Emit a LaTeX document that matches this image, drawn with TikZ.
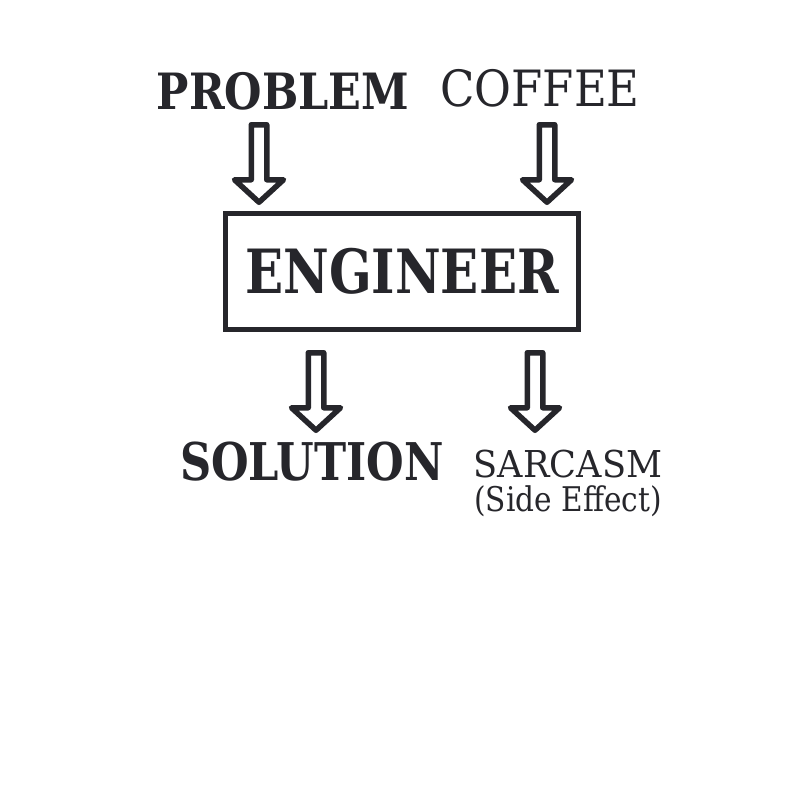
\documentclass[tikz,border=0pt]{standalone}
\usepackage{fontspec}
\setmainfont{DejaVu Serif}
\definecolor{ink}{RGB}{38,38,43}
\tikzset{
  downarrow/.pic={
    \draw[ink,line width=5.5pt,line join=round]
      (-7.75,0) -- (7.75,0) -- (7.75,55) -- (24.5,55) -- (0,77.5)
      -- (-24.5,55) -- (-7.75,55) -- cycle;
  },
  label/.style={anchor=base,text=ink,inner sep=0pt}
}
\begin{document}
\begin{tikzpicture}[x=1pt,y=-1pt]
                            \useasboundingbox[fill=white] (0,0) rectangle (800,800);
                            \node[label,font=\fontsize{50}{50}\selectfont\bfseries] (problem) at (283,109) {\scalebox{0.86}[1]{PROBLEM}};
                            \node[label,font=\fontsize{50}{50}\selectfont] (coffee) at (540,106) {\scalebox{0.9}[1]{COFFEE}};
                            \node[draw=ink,line width=5pt,minimum width=353pt,minimum height=116pt,inner sep=0pt,text=ink,
                              font=\fontsize{61}{61}\selectfont\bfseries] (engineer) at (402,271.5) {\scalebox{0.82}[1]{ENGINEER}};
                            \pic at (259,124.75) {downarrow};
                            \pic at (547,124.75) {downarrow};
                            \pic at (316,352.75) {downarrow};
                            \pic at (535,352.75) {downarrow};
                            \node[label,font=\fontsize{52}{52}\selectfont\bfseries] (solution) at (312,480) {\scalebox{0.83}[1]{SOLUTION}};
                            \node[label,font=\fontsize{37}{37}\selectfont] (sarcasm) at (568,477) {\scalebox{0.95}[1]{SARCASM}};
                            \node[label,font=\fontsize{34}{34}\selectfont] (side) at (568,511) {\scalebox{0.87}[1]{(Side Effect)}};
\end{tikzpicture}
\end{document}
